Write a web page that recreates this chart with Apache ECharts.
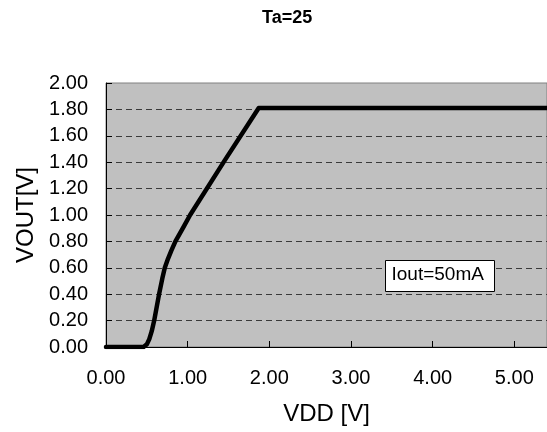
<!DOCTYPE html>
<html>
<head>
<meta charset="utf-8">
<script src="https://cdn.jsdelivr.net/npm/echarts@6/dist/echarts.min.js"></script>
<style>
  html, body { margin: 0; padding: 0; background: #fff; }
  #chart { width: 547px; height: 432px; }
</style>
</head>
<body>
<div id="chart"></div>
<script>
const vdd = [0, 0.46, 0.50, 0.53, 0.56, 0.59, 0.62, 0.65, 0.69, 0.72, 0.76, 0.80, 0.85, 0.95, 1.03, 1.45, 1.87, 5.40];
const vout = [0, 0, 0.02, 0.06, 0.12, 0.20, 0.30, 0.40, 0.52, 0.60, 0.67, 0.73, 0.80, 0.91, 1.00, 1.41, 1.81, 1.81];
const title = 'Ta=25';
const note = 'Iout=50mA';

const font = 'Arial, "Liberation Sans", sans-serif';
const chart = echarts.init(document.getElementById('chart'));

const option = {
  animation: false,
  textStyle: { fontFamily: font },
  title: {
    text: title,
    left: 257,
    top: 4,
    textStyle: { fontSize: 18, fontWeight: 'bold', color: '#000', fontFamily: font }
  },
  grid: {
    left: 106,
    right: -2,
    top: 83,
    bottom: 85,
    show: true,
    backgroundColor: '#c0c0c0',
    borderColor: '#808080',
    borderWidth: 1
  },
  xAxis: {
    type: 'value',
    min: 0,
    max: 5.4,
    interval: 1,
    name: 'VDD [V]',
    nameLocation: 'middle',
    nameGap: 55,
    nameTextStyle: { fontSize: 24, color: '#000', fontFamily: font },
    axisLine: { lineStyle: { color: '#000', width: 1 } },
    axisTick: { inside: true, length: 6, lineStyle: { color: '#000' } },
    axisLabel: {
      fontSize: 20, color: '#000', margin: 21, showMaxLabel: false,
      formatter: v => v.toFixed(2)
    },
    splitLine: { show: false }
  },
  yAxis: {
    type: 'value',
    min: 0,
    max: 2,
    interval: 0.2,
    name: 'VOUT[V]',
    nameLocation: 'middle',
    nameGap: 68,
    nameTextStyle: { fontSize: 24, color: '#000', fontFamily: font },
    axisLine: { lineStyle: { color: '#000', width: 1 } },
    axisTick: { inside: true, length: 6, lineStyle: { color: '#000' } },
    axisLabel: { fontSize: 20, color: '#000', margin: 18, formatter: v => v.toFixed(2) },
    splitLine: {
      show: true,
      showMinLine: false,
      showMaxLine: false,
      lineStyle: { color: '#3a3a3a', width: 1, type: [6, 4] }
    }
  },
  graphic: [{
    type: 'group',
    left: 385,
    top: 260,
    z: 100,
    children: [
      { type: 'rect', z: 100, shape: { x: 0, y: 0, width: 109, height: 31 },
        style: { fill: '#fff', stroke: '#000', lineWidth: 1 } },
      { type: 'text', z: 101, x: 6, y: 5,
        style: { text: note, fontSize: 19, fill: '#000', fontFamily: font } }
    ]
  }],
  series: [{
    type: 'line',
    data: vdd.map((x, i) => [x, vout[i]]),
    showSymbol: false,
    smooth: false,
    clip: true,
    lineStyle: { color: '#000', width: 4.5, join: 'round', cap: 'round' }
  }]
};

chart.setOption(option);
</script>
</body>
</html>
